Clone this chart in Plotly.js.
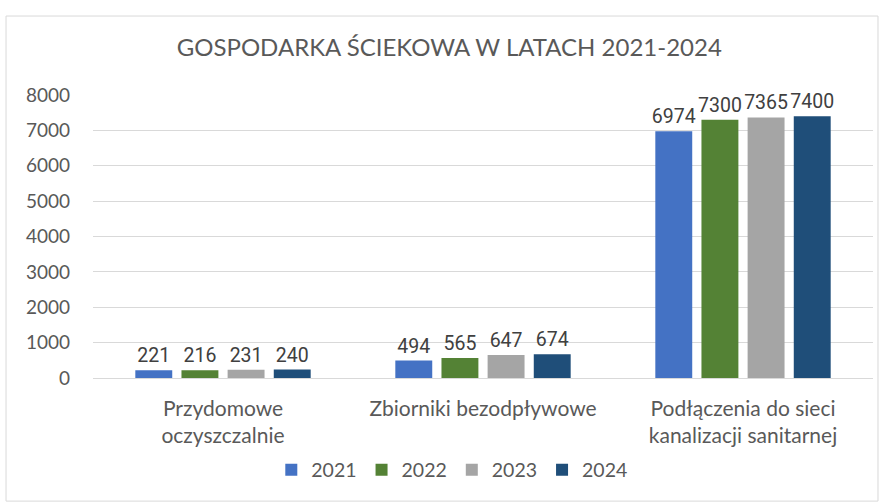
<!DOCTYPE html>
<html><head><meta charset="utf-8">
<script src="https://cdn.plot.ly/plotly-3.0.1.min.js"></script>
<style>body{margin:0;background:#fff}#c{width:881px;height:504px}</style>
</head><body><div id="c"></div>
<script>
const categories = ["Przydomowe<br>oczyszczalnie", "Zbiorniki bezodpływowe", "Podłączenia do sieci<br>kanalizacji sanitarnej"];
const years = ["2021", "2022", "2023", "2024"];
const v2021 = [221, 494, 6974];
const v2022 = [216, 565, 7300];
const v2023 = [231, 647, 7365];
const v2024 = [240, 674, 7400];
const yTicks = [0, 1000, 2000, 3000, 4000, 5000, 6000, 7000, 8000];
const colors = ["#4472C4", "#548235", "#A5A5A5", "#1F4E79"];
const series = [v2021, v2022, v2023, v2024];
const font = "Lato, 'Open Sans', sans-serif";
const traces = series.map((vals, i) => ({
  type: "bar", name: years[i], x: categories, y: vals,
  marker: {color: colors[i]},
  text: vals.map(String), textposition: "outside", cliponaxis: false, constraintext: "none",
  textfont: {size: 19.5, color: "#404040", family: "Roboto, Lato, sans-serif"},
  hoverinfo: "none"
}));
const layout = {
  width: 881, height: 504,
  margin: {l: 93, r: 8, t: 95, b: 126},
  paper_bgcolor: "#fff", plot_bgcolor: "#fff",
  font: {family: font, color: "#595959"},
  barmode: "group", bargap: 0.29, bargroupgap: 0.2,
  title: {text: "GOSPODARKA ŚCIEKOWA W LATACH 2021-2024", font: {size: 24, color: "#595959", family: font},
          x: 0.51, xref: "container", y: 0.905, yref: "container", yanchor: "middle"},
  xaxis: {tickfont: {size: 21, color: "#595959"}, showline: false, ticks: "", ticklabelstandoff: 16},
  yaxis: {range: [0, 8000], tickvals: yTicks, ticktext: yTicks.map(String), showgrid: true,
          gridcolor: "#D9D9D9", gridwidth: 1, zeroline: true, zerolinecolor: "#D9D9D9",
          tickfont: {size: 19, color: "#595959"}, ticklabelstandoff: 22},
  legend: {orientation: "h", x: 0.46, xanchor: "center", y: -0.325, yanchor: "middle",
           font: {size: 19.5, color: "#595959"}, itemwidth: 30, tracegroupgap: 0},
  showlegend: true,
  shapes: [{type: "rect", xref: "paper", yref: "paper", x0: -0.1115, x1: 1.0064, y0: -0.435, y1: 1.279,
            line: {color: "#D9D9D9", width: 1}, fillcolor: "rgba(0,0,0,0)", layer: "below"}]
};
Plotly.newPlot("c", traces, layout, {displayModeBar: false, staticPlot: true});
</script></body></html>
